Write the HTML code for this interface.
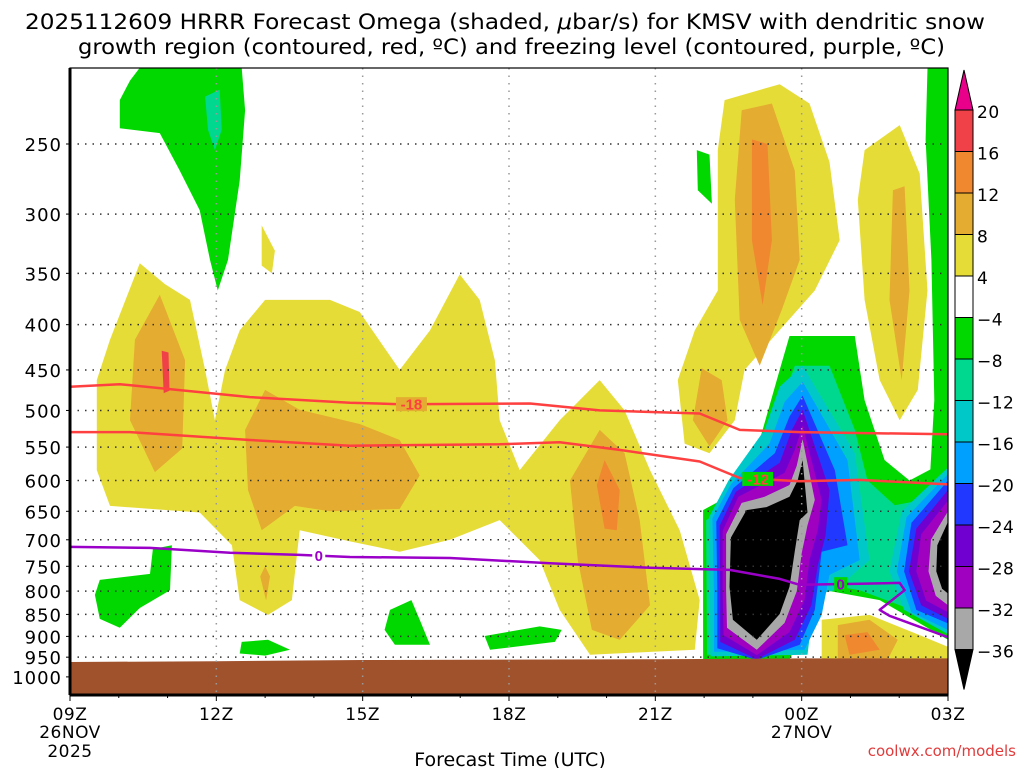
<!DOCTYPE html>
<html><head><meta charset="utf-8"><style>
html,body{margin:0;padding:0;background:#fff;}
svg{display:block;font-family:"DejaVu Sans","Liberation Sans",sans-serif;}
</style></head><body>
<svg id="c" width="1024" height="768" viewBox="0 0 1024 768">
<text x="25" y="29" textLength="960" lengthAdjust="spacingAndGlyphs" font-size="21" fill="#000">2025112609 HRRR Forecast Omega (shaded, <tspan font-style="italic">μ</tspan>bar/s) for KMSV with dendritic snow</text>
<text x="78" y="54" textLength="867" lengthAdjust="spacingAndGlyphs" font-size="21" fill="#000">growth region (contoured, red, ºC) and freezing level (contoured, purple, ºC)</text>
<g id="fills"></g><g id="grid"></g><g id="lines"></g><g id="axes"></g><g id="cbar"></g>
<text x="510" y="766" text-anchor="middle" font-size="19">Forecast Time (UTC)</text>
<text x="1016" y="756" text-anchor="end" font-size="15" fill="#e03c3c">coolwx.com/models</text>
</svg>
<script>
const NS="http://www.w3.org/2000/svg";
const X0=70,X1=948,YTOP=68,YBOT=695;
function xs(h){return X0+h*(X1-X0)/18;}
function ys(p){return 144+384.4*Math.log(p/250);}
function mk(t,a,parent){const e=document.createElementNS(NS,t);for(const k in a)e.setAttribute(k,a[k]);parent.appendChild(e);return e;}
const pressureTicks=[250,300,350,400,450,500,550,600,650,700,750,800,850,900,950,1000];
const timeTicks=[0,3,6,9,12,15,18];
const timeLabels=["09Z","12Z","15Z","18Z","21Z","00Z","03Z"];
const cbarLevels=[20,16,12,8,4,-4,-8,-12,-16,-20,-24,-28,-32,-36];
const cbarColors=["#f04048","#f08830","#e4ac30","#e6dc38","#ffffff","#00d800","#00d890","#00c8c8","#00a0ff","#2038ff","#7000d0","#a000c0","#a8a8a8"];
const terrainHours=[0,3,6,9,12,15,18];
const terrainP=[962,960,957,956,955,953,953];
// shaded omega regions: [hour, hPa]
const yellowMain=[[.55,462],[.82,416],[1.43,341],[1.95,360],[2.46,375],[2.77,450],[2.97,513],[3.18,450],[3.48,406],[4,375],[5.33,375],[5.94,387],[6.76,450],[7.38,406],[7.99,351],[8.4,375],[8.71,439],[8.81,513],[9.22,584],[10.04,513],[10.86,462],[11.37,500],[11.89,584],[12.5,683],[12.91,819],[12.81,932],[10.66,944],[10.04,840],[9.63,738],[8.81,665],[7.79,700],[6.76,722],[5.74,703],[4.71,683],[4.55,819],[4.06,851],[3.48,819],[3.32,710],[2.66,652],[.82,641],[.55,584]];
const yellowSmall=[[3.93,309],[4.2,330],[4.14,350],[3.93,343]];
const yellowTopRight=[[13.42,223],[14.55,214],[15.16,225],[15.57,262],[15.78,321],[15.27,366],[14.34,418],[13.83,450],[13.63,513],[13.11,559],[12.6,545],[12.46,462],[12.81,406],[13.28,366],[13.28,254]];
const yellowFarRight=[[16.29,254],[17.01,238],[17.42,270],[17.58,366],[17.38,474],[17.01,513],[16.6,462],[16.29,375],[16.15,289]];
const yellowBottomRight=[[15.41,862],[16.39,851],[17.42,897],[18,925],[18,957],[15.41,957]];
const orange1=[[1.84,370],[2.36,439],[2.3,552],[1.74,587],[1.23,513],[1.33,416]];
const orange2=[[4,474],[4.71,499],[5.94,518],[6.76,540],[7.17,592],[6.76,646],[5.33,650],[4.61,641],[3.93,683],[3.65,615],[3.59,526]];
const orange3=[[3.9,770],[4.0,750],[4.1,770],[4.02,820]];
const orange4=[[10.86,526],[11.37,559],[11.68,665],[11.89,830],[11.27,908],[10.7,885],[10.41,738],[10.25,600]];
const orange5=[[13.77,229],[14.39,225],[14.86,268],[14.96,338],[14.59,385],[14.14,445],[13.73,395],[13.63,289]];
const orange6=[[12.95,448],[13.36,462],[13.48,513],[13.11,549],[12.77,513]];
const orange7=[[16.87,282],[17.11,279],[17.21,366],[17.05,462],[16.8,375]];
const orange8=[[15.74,874],[16.39,862],[16.97,908],[16.76,957],[15.74,957]];
const dkOrange1=[[10.96,569],[11.27,615],[11.21,683],[10.96,680],[10.8,607]];
const dkOrange2=[[13.98,247],[14.3,250],[14.39,321],[14.2,380],[13.98,321]];
const dkOrange3=[[15.88,897],[16.35,890],[16.6,932],[15.98,944]];
const red1=[[1.88,428],[2.02,430],[2.04,475],[1.92,478]];
const green1=[[1.02,223],[1.23,212],[1.43,205],[3.52,205],[3.59,229],[3.48,275],[3.24,338],[3.03,366],[2.87,338],[2.66,297],[2.25,268],[1.84,243],[1.02,240]];
const teal1=[[2.77,221],[3.07,217],[3.11,241],[2.97,254],[2.83,241]];
const green2=[[12.85,254],[13.11,257],[13.16,292],[12.87,282]];
const green3=[[.61,777],[1.64,765],[1.7,717],[2.09,710],[2.05,798],[1.43,836],[1.02,880],[.61,860],[.51,808]];
const green4=[[6.56,840],[7.0,819],[7.17,862],[7.38,920],[6.66,920],[6.45,885]];
const green5=[[3.52,913],[4.06,908],[4.51,932],[4.0,946],[3.48,941]];
const green6=[[8.5,899],[9.63,877],[10.08,885],[9.94,913],[8.61,932]];
const green7=[[17.58,205],[18,205],[18,584],[17.62,607],[17.72,487],[17.66,338],[17.54,247]];
const cellGreen=[[14.75,412],[16.09,412],[16.29,487],[16.7,569],[17.21,600],[18,569],[18,908],[16.6,819],[15.37,796],[14.96,808],[14.92,908],[14.75,957],[12.98,957],[12.98,648],[13.73,615],[14.14,540],[14.55,450]];
const cellTeal=[[14.86,445],[15.57,445],[16.09,526],[16.35,600],[16.91,640],[18,623],[18,874],[17.01,830],[16.19,798],[15.37,785],[14.96,783],[14.88,908],[14.55,944],[13.06,944],[13.04,665],[13.83,625],[14.24,554]];
const cellCyan=[[15.02,445],[16.09,559],[16.39,738],[15.68,798],[15.27,808],[15.12,944],[13.13,948],[13.1,660],[13.5,600],[14.24,526],[14.55,470]];
const cellCyanR=[[18,580],[17.05,650],[16.8,760],[17.1,840],[18,895]];
const cellLtBlue=[[15.02,464],[15.94,569],[16.19,738],[15.57,767],[15.41,851],[15.06,932],[13.2,937],[13.2,798],[13.17,662],[13.55,606],[14.34,545],[14.65,489]];
const cellLtBlueR=[[18,590],[17.15,660],[16.95,760],[17.25,845],[18,885]];
const cellBlue=[[15.02,481],[15.68,584],[15.94,710],[15.41,722],[15.27,840],[14.96,920],[14.08,957],[13.27,928],[13.27,798],[13.25,668],[13.6,612],[14.45,559],[14.75,508]];
const cellBlueR=[[18,600],[17.25,670],[17.1,760],[17.35,840],[18,870]];
const cellPurple=[[15.02,499],[15.57,615],[15.49,692],[15.33,748],[15.2,830],[14.86,908],[14.08,955],[13.33,913],[13.33,798],[13.32,675],[13.65,618],[14.55,573],[14.8,526]];
const cellPurpleR=[[18,615],[17.35,680],[17.2,760],[17.45,830],[18,860]];
const cellViolet=[[15.02,520],[15.41,631],[15.33,683],[15.16,738],[15.06,819],[14.75,890],[14.08,945],[13.4,897],[13.38,798],[13.38,684],[13.7,626],[14.65,588],[14.86,554]];
const cellVioletR=[[18,632],[17.45,690],[17.35,760],[17.55,820],[18,845]];
const cellGray=[[15.02,539],[15.27,631],[15.12,674],[15.0,725],[14.9,800],[14.65,869],[14.08,932],[13.47,880],[13.45,798],[13.45,690],[13.77,636],[14.24,626],[14.75,607],[14.9,577]];
const cellGrayR=[[18,650],[17.65,700],[17.6,760],[17.75,810],[18,830]];
const cellBlack=[[15.02,569],[15.12,652],[14.96,665],[14.86,721],[14.75,791],[14.55,849],[14.08,908],[13.59,862],[13.52,791],[13.55,696],[13.87,648],[14.28,643],[14.75,626],[14.92,599]];
const cellBlackR=[[18,668],[17.78,710],[17.76,760],[17.88,795],[18,805]];
// contour lines
const iso18Hours=[0,1.02,3.69,5.74,6.76,9.43,10.86,12.91,13.73,14.96,18];
const iso18P=[470,467,483,490,492,491,500,504,526,529,532];
const iso12Hours=[0,1.23,3.69,5.74,8.81,10.04,11.27,12.91,13.73,14.96,16.19,18];
const iso12P=[529,529,540,548,546,543,554,571,596,601,599,606];
const frzHours=[0,1.64,3.28,4.71,5.74,7.79,9.84,11.89,13.52,14.55,14.96,16.19,17.01,17.11,16.6,16.8,18];
const frzP=[713,715,724,728,732,734,744,753,757,775,787,785,783,798,840,853,902];

const fills=document.getElementById('fills');
const clip=mk('clipPath',{id:'pc'},fills);
mk('rect',{x:X0,y:YTOP,width:X1-X0,height:YBOT-YTOP},clip);
const fg=mk('g',{'clip-path':'url(#pc)'},fills);
function poly(pts,color,name){
  const d=pts.map((q,i)=>(i?'L':'M')+xs(q[0]).toFixed(1)+','+ys(q[1]).toFixed(1)).join('')+'Z';
  const e=mk('path',{d:d,fill:color,'stroke-linejoin':'round'},fg);
  
  
}
const Y="#e6dc38",O="#e4ac30",DO="#f08830",R="#f04048";
poly(yellowMain,Y,'omega-4-8-main');poly(yellowSmall,Y,'omega-4-8-small');poly(yellowTopRight,Y,'omega-4-8-upper-right');poly(yellowFarRight,Y,'omega-4-8-far-right');poly(yellowBottomRight,Y,'omega-4-8-low-right');
[orange1,orange2,orange3,orange4,orange5,orange6,orange7,orange8].forEach((p,i)=>poly(p,O,'omega-8-12-region-'+(i+1)));
[dkOrange1,dkOrange2,dkOrange3].forEach((p,i)=>poly(p,DO,'omega-12-16-region-'+(i+1)));
poly(red1,R,'omega-16-20-region');
[green1,green2,green3,green4,green5,green6,green7].forEach((p,i)=>poly(p,"#00d800",'omega-neg4-neg8-region-'+(i+1)));
poly(teal1,"#00d890",'omega-neg8-neg12-upper');
poly(cellGreen,"#00d800",'cell-neg4');poly(cellTeal,"#00d890",'cell-neg8');
poly(cellCyan,"#00c8c8",'cell-neg12');poly(cellCyanR,"#00c8c8",'cell-right-neg12');
poly(cellLtBlue,"#00a0ff",'cell-neg16');poly(cellLtBlueR,"#00a0ff",'cell-right-neg16');
poly(cellBlue,"#2038ff",'cell-neg20');poly(cellBlueR,"#2038ff",'cell-right-neg20');
poly(cellPurple,"#7000d0",'cell-neg24');poly(cellPurpleR,"#7000d0",'cell-right-neg24');
poly(cellViolet,"#a000c0",'cell-neg28');poly(cellVioletR,"#a000c0",'cell-right-neg28');
poly(cellGray,"#a8a8a8",'cell-neg32');poly(cellGrayR,"#a8a8a8",'cell-right-neg32');
poly(cellBlack,"#000000",'cell-neg36');poly(cellBlackR,"#000000",'cell-right-neg36');
{let d='M'+xs(terrainHours[0])+','+YBOT;terrainHours.forEach((h,i)=>d+='L'+xs(h).toFixed(1)+','+ys(terrainP[i]).toFixed(1));d+='L'+xs(18)+','+YBOT+'Z';
const t=mk('path',{d:d,fill:'#a0522d'},fg);}

const grid=document.getElementById('grid');
pressureTicks.forEach(p=>{if(p===1000)return;const l=mk('line',{x1:X0,x2:X1,y1:ys(p),y2:ys(p),stroke:'#333','stroke-width':1.5,'stroke-dasharray':'1.5 6'},grid);
});
timeTicks.forEach(h=>{if(h===0||h===18)return;const l=mk('line',{x1:xs(h),x2:xs(h),y1:YTOP,y2:YBOT,stroke:'#999','stroke-width':1.5,'stroke-dasharray':'1.5 6'},grid);
});

const lg=mk('g',{'clip-path':'url(#pc)'},document.getElementById('lines'));
function line(hs,ps,color,name){const d=hs.map((h,i)=>(i?'L':'M')+xs(h).toFixed(1)+','+ys(ps[i]).toFixed(1)).join('');
const e=mk('path',{d:d,fill:'none',stroke:color,'stroke-width':2.5,'stroke-linejoin':'round'},lg);}
function interp(hs,ps,h){for(let i=0;i<hs.length-1;i++){if(h>=Math.min(hs[i],hs[i+1])&&h<=Math.max(hs[i],hs[i+1])){const f=(h-hs[i])/(hs[i+1]-hs[i]||1);return ps[i]+f*(ps[i+1]-ps[i]);}}return ps[0];}
function label(txt,h,hs,ps,color,name,bg){const x=xs(h),y=ys(interp(hs,ps,h));
const w=txt.length*9+4;
const r=mk('rect',{x:x-w/2,y:y-7,width:w,height:14,fill:bg},lg);

const e=mk('text',{x:x,y:y+5.5,'text-anchor':'middle','font-size':15,'font-weight':'bold',fill:color,'font-family':'Liberation Sans, sans-serif'},lg);e.textContent=txt;}
line(iso18Hours,iso18P,'#ff4040','isotherm-minus18');
line(iso12Hours,iso12P,'#ff4040','isotherm-minus12');
line(frzHours,frzP,'#9a00c8','freezing-level');
label('-18',7.0,iso18Hours,iso18P,'#ff4040','label-minus18','#e4ac30');
label('-12',14.1,iso12Hours,iso12P,'#ff4040','label-minus12','#00d800');
label('0',5.1,frzHours,frzP,'#9a00c8','label-zero-1','#ffffff');
label('0',15.8,frzHours,frzP,'#9a00c8','label-zero-2','#00d800');

const ax=document.getElementById('axes');
const fr=mk('rect',{x:X0,y:YTOP,width:X1-X0,height:YBOT-YTOP,fill:'none',stroke:'#000','stroke-width':1.2},ax);

mk('line',{x1:X0,x2:X0,y1:YTOP,y2:YBOT,stroke:'#000','stroke-width':3},ax);
mk('line',{x1:X0,x2:X1,y1:YBOT,y2:YBOT,stroke:'#000','stroke-width':3},ax);
pressureTicks.forEach(p=>{const y=ys(p);mk('line',{x1:X0-4,x2:X0,y1:y,y2:y,stroke:'#000'},ax);
const t=mk('text',{x:62,y:y+7,'text-anchor':'end','font-size':18,'letter-spacing':'1'},ax);t.textContent=p;
});
for(let h=0;h<=18;h++){const x=xs(h);mk('line',{x1:x,x2:x,y1:YBOT,y2:YBOT+(h%3?3:6),stroke:'#000'},ax);}
timeTicks.forEach((h,i)=>{const t=mk('text',{x:xs(h),y:720,'text-anchor':'middle','font-size':17,'letter-spacing':'0.5'},ax);t.textContent=timeLabels[i];
});
[['26NOV',0,738],['2025',0,757],['27NOV',15,738]].forEach(a=>{const t=mk('text',{x:xs(a[1]),y:a[2],'text-anchor':'middle','font-size':17,'letter-spacing':'0.5'},ax);t.textContent=a[0];
});

const cb=document.getElementById('cbar');
const CBX=955,CBW=18,CB0=110,CBS=41.5;
const tri1=mk('path',{d:`M${CBX},${CB0}L${CBX+CBW/2},70L${CBX+CBW},${CB0}Z`,fill:'#e8008a',stroke:'#000'},cb);

cbarColors.forEach((c,i)=>{const r=mk('rect',{x:CBX,y:CB0+i*CBS,width:CBW,height:CBS,fill:c,stroke:'#000'},cb);
});
const yb=CB0+cbarColors.length*CBS;
const tri2=mk('path',{d:`M${CBX},${yb}L${CBX+CBW/2},${yb+40}L${CBX+CBW},${yb}Z`,fill:'#000',stroke:'#000'},cb);

cbarLevels.forEach((v,i)=>{const t=mk('text',{x:977,y:CB0+i*CBS+8,'font-size':17,'letter-spacing':'0.5'},cb);t.textContent=v<0?'\u2212'+(-v):v;
});
</script>
</body></html>
